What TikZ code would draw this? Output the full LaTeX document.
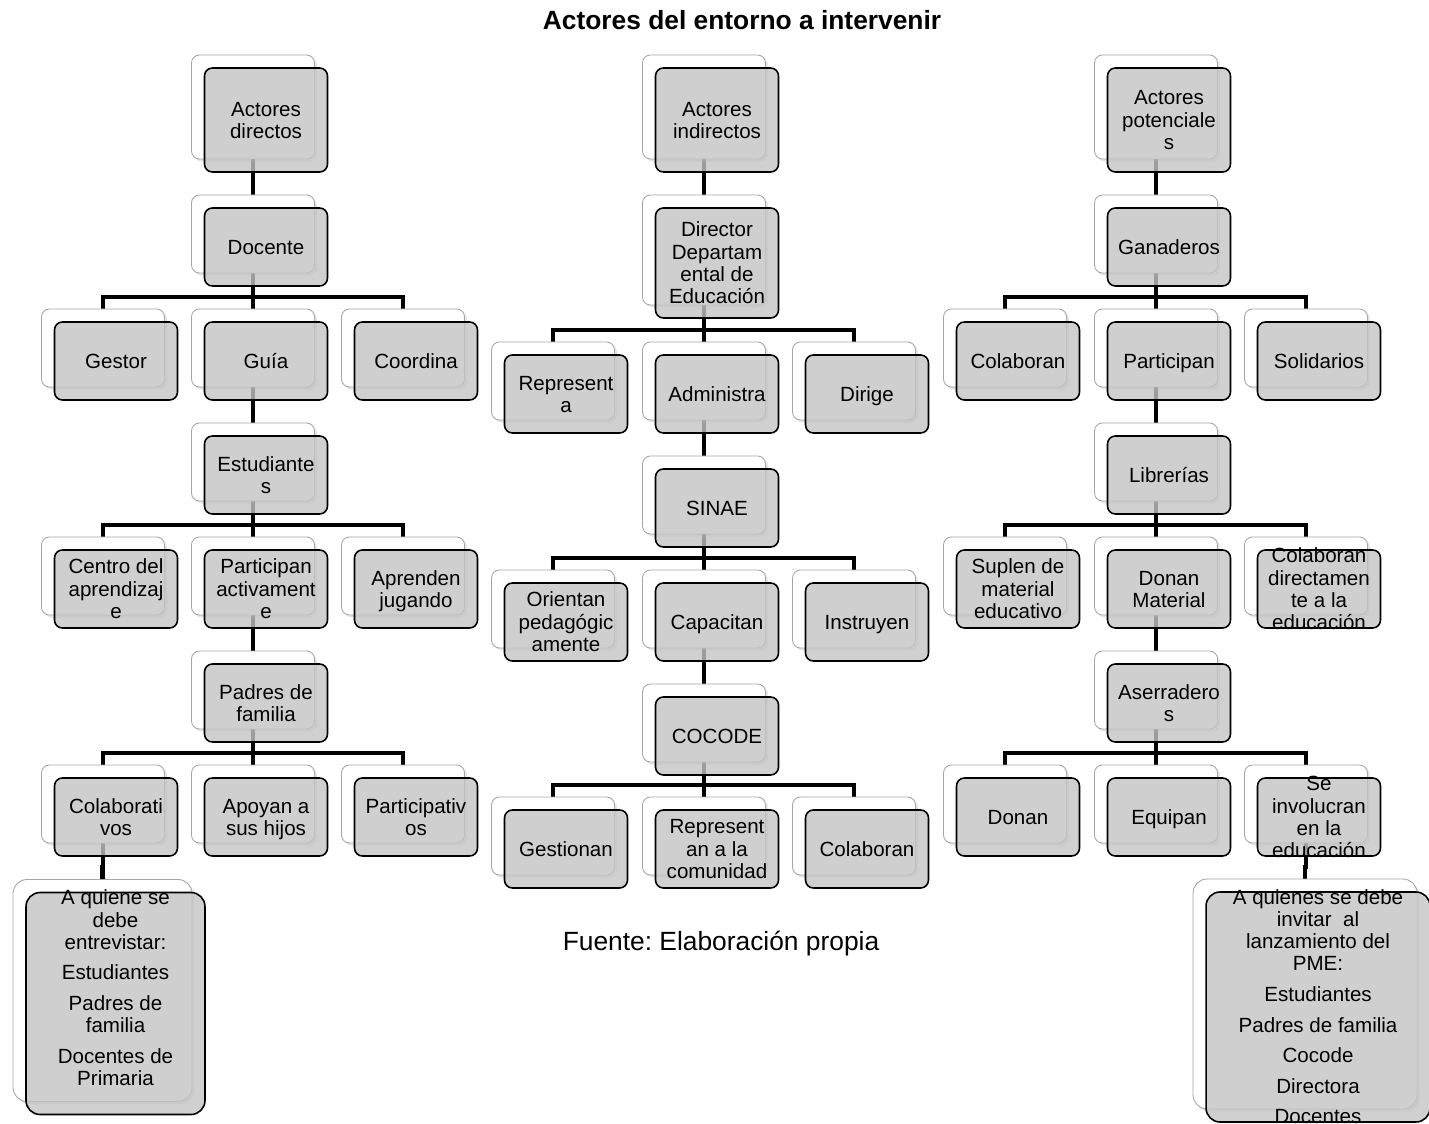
\documentclass[tikz,border=0pt]{standalone}
\usepackage{fontspec}
\setmainfont{Liberation Sans}
\usetikzlibrary{calc,shadows,backgrounds}
\frenchspacing
\definecolor{boxfill}{gray}{0.77}
\newcommand{\topstrut}{\rule{0pt}{0.905em}}
\newcommand{\botstrut}{\rule[-0.212em]{0pt}{0.212em}}
\tikzset{
    backbox/.style={draw=gray!70, line width=0.5pt, fill=white, rounded corners=4.5pt,
        minimum width=2.46cm, inner sep=0pt,
        drop shadow={opacity=0.2, shadow xshift=1.5pt, shadow yshift=-1.5pt}},
    frontbox/.style={draw=black, line width=0.9pt, fill=boxfill, fill opacity=0.8,
        rounded corners=4.5pt, minimum width=2.46cm, inner sep=0pt},
    boxtext/.style={align=center, inner sep=0pt, font=\fontsize{11.7}{12.6}\selectfont},
    conn/.style={line width=2.3pt}
}
\newcommand{\actor}[6][]{%
    \node[backbox,#1,minimum height=#5*0.02cm] (#2-b) at (#3-13,#4-13) {};
    \node[frontbox,#1,minimum height=#5*0.02cm] (#2) at (#3,#4) {};
    \node[boxtext] (#2-t) at (#2) {\topstrut#6\botstrut};
}
\begin{document}
\begin{tikzpicture}[x=0.02cm,y=-0.02cm]
        \useasboundingbox (0,0) rectangle (1429,1124);
        \node[font=\bfseries\fontsize{15}{18}\selectfont, anchor=base] (titulo) at (742,29.5) {Actores del entorno a intervenir};

        \actor{dir}{266}{120}{104}{Actores\\directos}
        \actor{doc}{266}{247}{78}{Docente}
        \actor{gestor}{116}{361}{78}{Gestor}
        \actor{guia}{266}{361}{78}{Guía}
        \actor{coord}{416}{361}{78}{Coordina}
        \actor{est}{266}{475}{78}{Estudiante\\s}
        \actor{centro}{116}{589}{78}{Centro del\\aprendizaj\\e}
        \actor{partact}{266}{589}{78}{Participan\\activament\\e}
        \actor{aprend}{416}{589}{78}{Aprenden\\jugando}
        \actor{padres}{266}{703}{78}{Padres de\\familia}
        \actor{colab}{116}{817}{78}{Colaborati\\vos}
        \actor{apoyan}{266}{817}{78}{Apoyan a\\sus hijos}
        \actor{partic}{416}{817}{78}{Participativ\\os}
        \actor[minimum width=3.58cm, rounded corners=8pt]{entrev}{115.5}{1003.5}{222}{}
        \node[boxtext] (entrevlista) at (115.5,988) {\topstrut A quiene se\\debe\\entrevistar:\\[4.8pt]Estudiantes\\[4.8pt]Padres de\\familia\\[4.8pt]Docentes de\\Primaria\botstrut};

        \actor{ind}{717}{120}{104}{Actores\\indirectos}
        \actor{ddir}{717}{263}{110}{Director\\Departam\\ental de\\Educación}
        \actor{repr}{566}{394}{78}{Represent\\a}
        \actor{admin}{717}{394}{78}{Administra}
        \actor{dirige}{867}{394}{78}{Dirige}
        \actor{sinae}{717}{508}{78}{SINAE}
        \actor{orient}{566}{622}{78}{Orientan\\pedagógic\\amente}
        \actor{capac}{717}{622}{78}{Capacitan}
        \actor{instr}{867}{622}{78}{Instruyen}
        \actor{cocode}{717}{736}{78}{COCODE}
        \actor{gestion}{566}{849}{78}{Gestionan}
        \actor{reprc}{717}{849}{78}{Represent\\an a la\\comunidad}
        \actor{colabc}{867}{849}{78}{Colaboran}

        \actor{pot}{1169}{120}{104}{Actores\\potenciale\\s}
        \actor{gan}{1169}{247}{78}{Ganaderos}
        \actor{colabr}{1018}{361}{78}{Colaboran}
        \actor{particr}{1169}{361}{78}{Participan}
        \actor{solid}{1319}{361}{78}{Solidarios}
        \actor{libr}{1169}{475}{78}{Librerías}
        \actor{suplen}{1018}{589}{78}{Suplen de\\material\\educativo}
        \actor{donanm}{1169}{589}{78}{Donan\\Material}
        \actor{colabdir}{1319}{589}{78}{Colaboran\\directamen\\te a la\\educación}
        \actor{aserr}{1169}{703}{78}{Aserradero\\s}
        \actor{donan}{1018}{817}{78}{Donan}
        \actor{equip}{1169}{817}{78}{Equipan}
        \actor{involuc}{1319}{817}{78}{Se\\involucran\\en la\\educación}
        \actor[minimum width=4.48cm, rounded corners=8pt]{invit}{1318}{1007}{230}{A quienes se debe\\invitar ~al\\lanzamiento del\\PME:\\[4.8pt]Estudiantes\\[4.8pt]Padres de familia\\[4.8pt]Cocode\\[4.8pt]Directora\\[4.8pt]Docentes}

        \node[font=\fontsize{15}{18}\selectfont, anchor=base] (fuente) at (721,950) {Fuente: Elaboración propia};

        \begin{scope}[on background layer]
            \foreach \p/\c in {dir/doc, doc/gestor, doc/guia, doc/coord, guia/est,
                    est/centro, est/partact, est/aprend, partact/padres,
                    padres/colab, padres/apoyan, padres/partic, colab/entrev,
                    ind/ddir, ddir/repr, ddir/admin, ddir/dirige, admin/sinae,
                    sinae/orient, sinae/capac, sinae/instr, capac/cocode,
                    cocode/gestion, cocode/reprc, cocode/colabc,
                    pot/gan, gan/colabr, gan/particr, gan/solid, particr/libr,
                    libr/suplen, libr/donanm, libr/colabdir, donanm/aserr,
                    aserr/donan, aserr/equip, aserr/involuc, involuc/invit}
                \draw[conn] (\p-b.south) |- ($(\c-b.north)+(0,-12)$) -- (\c-b.north);
        \end{scope}
    \end{tikzpicture}
\end{document}
